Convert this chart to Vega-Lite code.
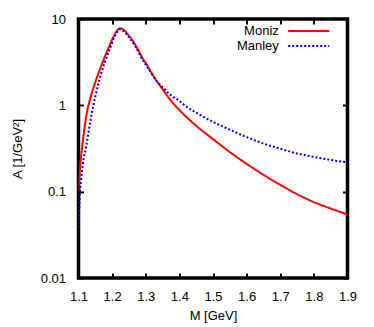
{
  "$schema": "https://vega.github.io/schema/vega-lite/v6.json",
  "width": 269,
  "height": 259,
  "autosize": {"type": "none"},
  "padding": {"left": 78.5, "top": 19, "right": 26.5, "bottom": 49},
  "config": {
    "view": {"stroke": "black", "strokeWidth": 3.5},
    "font": "Liberation Sans",
    "axis": {
      "domain": false,
      "grid": false,
      "tickColor": "black",
      "tickWidth": 2,
      "tickSize": 5,
      "offset": -5,
      "labelFlush": false,
      "labelFontSize": 13,
      "labelColor": "black",
      "titleFontSize": 13,
      "titleColor": "black",
      "titleFontWeight": "normal"
    },
    "legend": {
      "labelFontSize": 13,
      "labelColor": "black"
    }
  },
  "data": {
    "values": [
      {"series": "Moniz", "M": 1.100, "A": 0.104},
      {"series": "Moniz", "M": 1.105, "A": 0.20},
      {"series": "Moniz", "M": 1.111, "A": 0.327},
      {"series": "Moniz", "M": 1.117, "A": 0.52},
      {"series": "Moniz", "M": 1.124, "A": 0.79},
      {"series": "Moniz", "M": 1.135, "A": 1.20},
      {"series": "Moniz", "M": 1.151, "A": 1.90},
      {"series": "Moniz", "M": 1.169, "A": 2.96},
      {"series": "Moniz", "M": 1.189, "A": 4.60},
      {"series": "Moniz", "M": 1.207, "A": 6.55},
      {"series": "Moniz", "M": 1.216, "A": 7.45},
      {"series": "Moniz", "M": 1.2235, "A": 7.8},
      {"series": "Moniz", "M": 1.232, "A": 7.6},
      {"series": "Moniz", "M": 1.248, "A": 6.55},
      {"series": "Moniz", "M": 1.268, "A": 5.1},
      {"series": "Moniz", "M": 1.280, "A": 4.2},
      {"series": "Moniz", "M": 1.293, "A": 3.38},
      {"series": "Moniz", "M": 1.300, "A": 3.09},
      {"series": "Moniz", "M": 1.315, "A": 2.45},
      {"series": "Moniz", "M": 1.333, "A": 1.90},
      {"series": "Moniz", "M": 1.350, "A": 1.54},
      {"series": "Moniz", "M": 1.372, "A": 1.17},
      {"series": "Moniz", "M": 1.400, "A": 0.883},
      {"series": "Moniz", "M": 1.450, "A": 0.58},
      {"series": "Moniz", "M": 1.500, "A": 0.406},
      {"series": "Moniz", "M": 1.550, "A": 0.288},
      {"series": "Moniz", "M": 1.600, "A": 0.210},
      {"series": "Moniz", "M": 1.650, "A": 0.157},
      {"series": "Moniz", "M": 1.700, "A": 0.120},
      {"series": "Moniz", "M": 1.750, "A": 0.0935},
      {"series": "Moniz", "M": 1.800, "A": 0.0757},
      {"series": "Moniz", "M": 1.850, "A": 0.0638},
      {"series": "Moniz", "M": 1.900, "A": 0.0545},
      {"series": "Manley", "M": 1.100, "A": 0.038},
      {"series": "Manley", "M": 1.102, "A": 0.06},
      {"series": "Manley", "M": 1.1045, "A": 0.10},
      {"series": "Manley", "M": 1.108, "A": 0.14},
      {"series": "Manley", "M": 1.113, "A": 0.21},
      {"series": "Manley", "M": 1.1223, "A": 0.327},
      {"series": "Manley", "M": 1.139, "A": 0.789},
      {"series": "Manley", "M": 1.161, "A": 1.90},
      {"series": "Manley", "M": 1.194, "A": 4.60},
      {"series": "Manley", "M": 1.207, "A": 6.2},
      {"series": "Manley", "M": 1.215, "A": 7.1},
      {"series": "Manley", "M": 1.223, "A": 7.6},
      {"series": "Manley", "M": 1.232, "A": 7.35},
      {"series": "Manley", "M": 1.248, "A": 6.3},
      {"series": "Manley", "M": 1.268, "A": 4.9},
      {"series": "Manley", "M": 1.293, "A": 3.25},
      {"series": "Manley", "M": 1.300, "A": 2.96},
      {"series": "Manley", "M": 1.315, "A": 2.4},
      {"series": "Manley", "M": 1.333, "A": 1.90},
      {"series": "Manley", "M": 1.350, "A": 1.63},
      {"series": "Manley", "M": 1.372, "A": 1.337},
      {"series": "Manley", "M": 1.400, "A": 1.127},
      {"series": "Manley", "M": 1.412, "A": 1.027},
      {"series": "Manley", "M": 1.450, "A": 0.822},
      {"series": "Manley", "M": 1.500, "A": 0.644},
      {"series": "Manley", "M": 1.550, "A": 0.523},
      {"series": "Manley", "M": 1.600, "A": 0.428},
      {"series": "Manley", "M": 1.650, "A": 0.361},
      {"series": "Manley", "M": 1.700, "A": 0.314},
      {"series": "Manley", "M": 1.750, "A": 0.277},
      {"series": "Manley", "M": 1.800, "A": 0.253},
      {"series": "Manley", "M": 1.850, "A": 0.233},
      {"series": "Manley", "M": 1.900, "A": 0.218}
    ]
  },
  "layer": [
    {
      "mark": {"type": "line", "strokeWidth": 2, "interpolate": "monotone", "clip": true},
      "encoding": {
        "x": {
          "field": "M", "type": "quantitative",
          "scale": {"domain": [1.1, 1.9], "nice": false, "zero": false},
          "axis": {"orient": "bottom", "values": [1.1, 1.2, 1.3, 1.4, 1.5, 1.6, 1.7, 1.8, 1.9], "format": ".1f", "title": "M [GeV]", "labelPadding": 12, "titlePadding": 6}
        },
        "y": {
          "field": "A", "type": "quantitative",
          "scale": {"type": "log", "domain": [0.01, 10], "nice": false},
          "axis": {"orient": "left", "values": [0.01, 0.1, 1, 10], "format": "~g", "title": "A [1/GeV²]", "labelPadding": 13, "titlePadding": 16}
        },
        "color": {
          "field": "series", "type": "nominal",
          "scale": {"domain": ["Moniz", "Manley"], "range": ["#ff0000", "#0000ff"]},
          "legend": {"orient": "none", "legendX": 222.2, "legendY": 4, "title": null, "symbolType": "M-3,0H3", "symbolSize": 187, "symbolStrokeWidth": 2, "labelAlign": "right", "labelOffset": -37.9, "rowPadding": 0}
        },
        "strokeDash": {
          "field": "series", "type": "nominal",
          "scale": {"domain": ["Moniz", "Manley"], "range": [[1, 0], [2, 2]]},
          "legend": {"orient": "none", "legendX": 222.2, "legendY": 4, "title": null, "symbolType": "M-3,0H3", "symbolSize": 187, "symbolStrokeWidth": 2, "labelAlign": "right", "labelOffset": -37.9, "rowPadding": 0}
        }
      }
    },
    {
      "mark": {"type": "line", "opacity": 0, "clip": true},
      "encoding": {
        "x": {"field": "M", "type": "quantitative", "scale": {"domain": [1.1, 1.9], "nice": false, "zero": false}, "axis": {"orient": "top", "values": [1.1, 1.2, 1.3, 1.4, 1.5, 1.6, 1.7, 1.8, 1.9], "labels": false, "title": null}},
        "y": {"field": "A", "type": "quantitative", "scale": {"type": "log", "domain": [0.01, 10], "nice": false}, "axis": {"orient": "right", "values": [0.01, 0.1, 1, 10], "labels": false, "title": null}},
        "detail": {"field": "series", "type": "nominal"}
      }
    }
  ],
  "resolve": {"axis": {"x": "independent", "y": "independent"}}
}
